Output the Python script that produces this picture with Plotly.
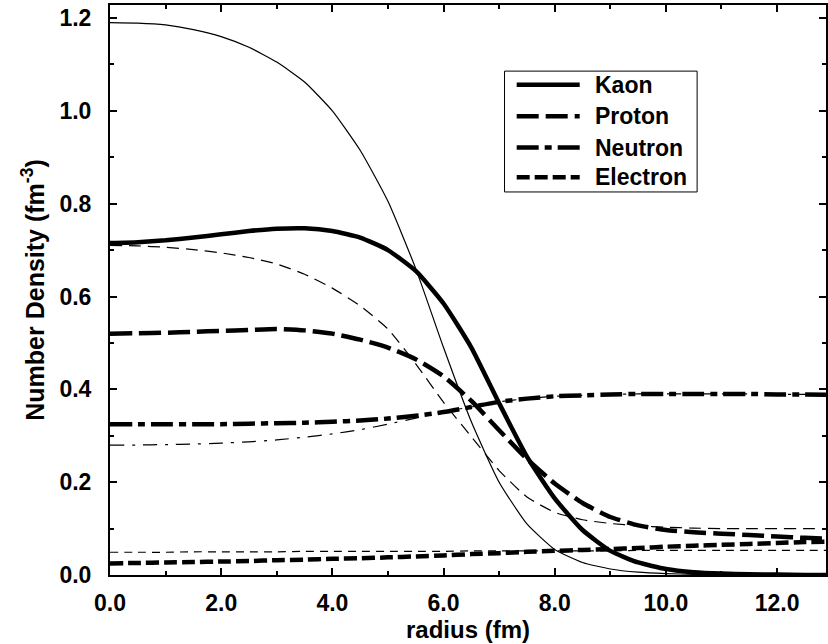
import plotly.graph_objects as go

# radius grid (fm)
radius = [0, 0.5, 1, 1.5, 2, 2.5, 3, 3.5, 4, 4.5, 5, 5.5, 6, 6.5, 7, 7.5, 8, 8.5, 9, 9.5,
          10, 10.5, 11, 11.5, 12, 12.5, 13]

# thick curves
kaon = [0.715, 0.717, 0.721, 0.727, 0.734, 0.741, 0.746, 0.747, 0.741, 0.727, 0.700, 0.655,
        0.585, 0.490, 0.370, 0.255, 0.165, 0.097, 0.052, 0.027, 0.013, 0.006, 0.003, 0.0015,
        0.001, 0.0, 0.0]
proton = [0.520, 0.521, 0.522, 0.524, 0.526, 0.528, 0.530, 0.527, 0.520, 0.507, 0.490, 0.465,
          0.428, 0.375, 0.312, 0.250, 0.197, 0.155, 0.125, 0.107, 0.097, 0.092, 0.089, 0.086,
          0.083, 0.080, 0.078]
neutron = [0.325, 0.325, 0.325, 0.325, 0.325, 0.326, 0.327, 0.328, 0.330, 0.333, 0.337, 0.343,
           0.351, 0.362, 0.373, 0.380, 0.385, 0.387, 0.389, 0.390, 0.390, 0.390, 0.390, 0.390,
           0.389, 0.389, 0.388]
electron = [0.025, 0.026, 0.027, 0.028, 0.029, 0.030, 0.032, 0.033, 0.035, 0.036, 0.038, 0.040,
            0.042, 0.045, 0.047, 0.050, 0.052, 0.054, 0.056, 0.058, 0.061, 0.063, 0.065, 0.067,
            0.069, 0.071, 0.072]

# thin curves
kaon_thin = [1.190, 1.189, 1.185, 1.175, 1.160, 1.137, 1.105, 1.062, 1.000, 0.915, 0.805, 0.660,
             0.490, 0.330, 0.200, 0.110, 0.055, 0.027, 0.013, 0.006, 0.003, 0.0015, 0.001, 0.0,
             0.0, 0.0, 0.0]
proton_thin = [0.710, 0.709, 0.706, 0.701, 0.694, 0.684, 0.670, 0.648, 0.618, 0.580, 0.530, 0.455,
               0.372, 0.298, 0.225, 0.168, 0.135, 0.119, 0.111, 0.106, 0.103, 0.101, 0.100, 0.100,
               0.100, 0.100, 0.100]
neutron_thin = [0.280, 0.280, 0.281, 0.282, 0.284, 0.287, 0.291, 0.297, 0.304, 0.313, 0.325, 0.338,
                0.352, 0.362, 0.373, 0.380, 0.385, 0.387, 0.389, 0.390, 0.390, 0.390, 0.390, 0.390,
                0.389, 0.389, 0.388]
electron_thin = [0.049, 0.049, 0.049, 0.050, 0.050, 0.050, 0.050, 0.051, 0.051, 0.051, 0.051, 0.051,
                 0.051, 0.052, 0.052, 0.052, 0.052, 0.052, 0.052, 0.053, 0.053, 0.053, 0.053, 0.053,
                 0.053, 0.053, 0.053]

legend_names = ["Kaon", "Proton", "Neutron", "Electron"]

x_ticks = [0, 2, 4, 6, 8, 10, 12]
y_ticks = [0.0, 0.2, 0.4, 0.6, 0.8, 1.0, 1.2]

THICK = 4.5
THIN = 1.2
thick_dash = ["solid", "22px,7px", "22px,6px,7px,6px", "13px,5px"]
thin_dash = ["solid", "12px,7px", "14px,8px,3px,8px", "8px,6px"]

fig = go.Figure()

def add(y, width, dash):
    fig.add_trace(go.Scatter(
        x=radius, y=y, mode="lines",
        line=dict(color="black", width=width, dash=dash, shape="spline", smoothing=0.5),
        showlegend=False, hoverinfo="skip"))

for ys, d in zip([kaon_thin, proton_thin, neutron_thin, electron_thin], thin_dash):
    add(ys, THIN, d)
for ys, d in zip([kaon, proton, neutron, electron], thick_dash):
    add(ys, THICK, d)

FONT = "Liberation Sans"

# custom legend (paper coordinates)
shapes = [dict(type="rect", xref="paper", yref="paper", x0=0.551, x1=0.820, y0=0.672, y1=0.884,
               line=dict(color="black", width=1), fillcolor="white", layer="above")]
annotations = []
ly = [0.860, 0.805, 0.750, 0.698]
for name, d, yy in zip(legend_names, thick_dash, ly):
    shapes.append(dict(type="line", xref="paper", yref="paper", x0=0.568, x1=0.656, y0=yy, y1=yy,
                       line=dict(color="black", width=THICK, dash=d), layer="above"))
    annotations.append(dict(xref="paper", yref="paper", x=0.675, y=yy, text=name, showarrow=False,
                            xanchor="left", yanchor="middle",
                            font=dict(family=FONT, size=23, color="black", weight="bold")))

axis_common = dict(
    showline=True, linewidth=2, linecolor="black", mirror="ticks",
    ticks="inside", ticklen=7, tickwidth=1.5, tickcolor="black",
    showgrid=False, zeroline=False, automargin=False,
    tickfont=dict(family=FONT, size=23, color="black", weight="bold"),
)

fig.update_layout(
    width=828, height=644,
    margin=dict(l=110, r=2, t=5, b=69),
    paper_bgcolor="white", plot_bgcolor="white",
    xaxis=dict(range=[0, 12.88], tickvals=x_ticks, ticktext=[f"{v:.1f}" for v in x_ticks],
               minor=dict(dtick=1, tick0=0, ticks="inside", ticklen=4, tickcolor="black", showgrid=False),
               ticklabelstandoff=6,
               title=dict(text="radius (fm)", standoff=3,
                          font=dict(family=FONT, size=24, color="black", weight="bold")),
               **axis_common),
    yaxis=dict(range=[0, 1.228], tickvals=y_ticks, ticktext=[f"{v:.1f}" for v in y_ticks],
               minor=dict(dtick=0.1, tick0=0, ticks="inside", ticklen=4, tickcolor="black", showgrid=False),
               ticklabelstandoff=12,
               title=dict(text="Number Density (fm<sup>-3</sup>)", standoff=8,
                          font=dict(family=FONT, size=25, color="black", weight="bold")),
               **axis_common),
    shapes=shapes,
    annotations=annotations,
    showlegend=False,
)

fig.write_html("out.html")
